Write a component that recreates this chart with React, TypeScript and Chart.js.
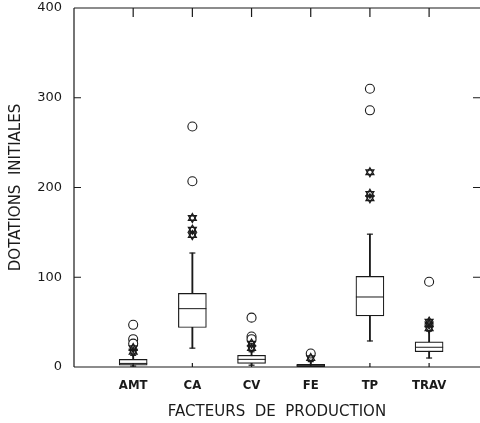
import React, { useEffect, useRef } from "react";
import { Chart, registerables } from "chart.js";

Chart.register(...registerables);

// ---- data ----
const categories = ["AMT", "CA", "CV", "FE", "TP", "TRAV"];
const q1 = [2, 44, 4, 0.5, 57, 17];
const medians = [4, 65, 8.5, 1.5, 78, 22];
const q3 = [8.5, 82, 13, 3, 101, 28];
const whiskerLow = [1, 21, 2, 0.3, 29, 10];
const whiskerHigh = [13, 127, 17, 6, 148, 40];
const farOutliers = [
  [47, 31, 26],
  [268, 207],
  [55, 34, 31],
  [15],
  [310, 286],
  [95],
];
const nearOutliers = [
  [21, 17],
  [166, 153, 147],
  [26, 21],
  [10],
  [217, 193, 188],
  [50.5, 47.5, 43],
];
const yTicks = [0, 100, 200, 300, 400];
const xTitle = "FACTEURS  DE  PRODUCTION";
const yTitle = "DOTATIONS  INITIALES";

const INK = "#1a1a1a";

const framePlugin = {
  id: "frame",
  afterDraw(chart: any) {
    const { ctx, chartArea } = chart;
    const xs = chart.scales.x;
    const ys = chart.scales.y;
    const { left, right, top, bottom } = chartArea;
    ctx.save();
    ctx.strokeStyle = INK;
    ctx.lineWidth = 1.2;
    ctx.beginPath();
    ctx.moveTo(left, top);
    ctx.lineTo(right, top);
    ctx.moveTo(left, top);
    ctx.lineTo(left, bottom);
    ctx.moveTo(left, bottom);
    ctx.lineTo(right, bottom);
    categories.forEach((_, i) => {
      const px = xs.getPixelForValue(i + 1);
      ctx.moveTo(px, top);
      ctx.lineTo(px, top + 9);
      ctx.moveTo(px, bottom);
      ctx.lineTo(px, bottom - 4);
    });
    yTicks.slice(1, -1).forEach((v) => {
      const py = ys.getPixelForValue(v);
      ctx.moveTo(left, py);
      ctx.lineTo(left + 7, py);
      ctx.moveTo(right, py);
      ctx.lineTo(right - 7, py);
    });
    ctx.stroke();
    ctx.restore();
  },
};

export default function App() {
  const ref = useRef<HTMLCanvasElement>(null);

  useEffect(() => {
    document.body.style.margin = "0";
    document.body.style.overflow = "hidden";
    const canvas = ref.current!;
    const pts = (vals: number[][]) =>
      vals.flatMap((arr, i) => arr.map((v) => ({ x: i + 1, y: v })));

    const chart = new Chart(canvas, {
      type: "bar",
      data: {
        datasets: [
          {
            type: "bar",
            data: categories.map((_, i) => ({ x: i + 1, y: [whiskerLow[i], whiskerHigh[i]] })) as any,
            backgroundColor: INK,
            borderWidth: 0,
            barThickness: 1.2,
            grouped: false,
            order: 6,
          } as any,
          {
            type: "bar",
            data: categories.map((_, i) => ({ x: i + 1, y: [q1[i], q3[i]] })) as any,
            backgroundColor: "#ffffff",
            borderColor: INK,
            borderWidth: 1.2,
            borderSkipped: false,
            barThickness: 28,
            grouped: false,
            order: 5,
          } as any,
          {
            type: "scatter",
            data: categories.map((_, i) => ({ x: i + 1, y: medians[i] })),
            pointStyle: "line",
            radius: 14,
            borderColor: INK,
            borderWidth: 1,
            order: 4,
          } as any,
          {
            type: "scatter",
            data: [
              ...categories.map((_, i) => ({ x: i + 1, y: whiskerHigh[i] })),
              ...categories.map((_, i) => ({ x: i + 1, y: whiskerLow[i] })),
            ],
            pointStyle: "line",
            radius: 3,
            borderColor: INK,
            borderWidth: 1.2,
            order: 4,
          } as any,
          {
            type: "scatter",
            data: pts(farOutliers),
            pointStyle: "circle",
            radius: 4.5,
            backgroundColor: "#ffffff",
            borderColor: INK,
            borderWidth: 1.1,
            order: 2,
          } as any,
          {
            type: "scatter",
            data: pts(nearOutliers),
            pointStyle: "triangle",
            radius: 4.5,
            rotation: 0,
            backgroundColor: "rgba(0,0,0,0)",
            borderColor: INK,
            borderWidth: 1.3,
            order: 1,
          } as any,
          {
            type: "scatter",
            data: pts(nearOutliers),
            pointStyle: "triangle",
            radius: 4.5,
            rotation: 180,
            backgroundColor: "rgba(0,0,0,0)",
            borderColor: INK,
            borderWidth: 1.3,
            order: 1,
          } as any,
        ],
      },
      options: {
        animation: false,
        responsive: false,
        maintainAspectRatio: false,
        layout: { autoPadding: false, padding: { top: 8, right: 0, left: 0, bottom: 0 } },
        plugins: {
          legend: { display: false },
          tooltip: { enabled: false },
        },
        scales: {
          x: {
            type: "linear",
            min: 0,
            max: 6.86,
            offset: false,
            grid: { display: false, drawTicks: false, offset: false },
            border: { display: false },
            afterBuildTicks: (s: any) => {
              s.ticks = categories.map((_, i) => ({ value: i + 1 }));
            },
            afterFit: (s: any) => {
              s.height = 56;
              s.paddingLeft = 0;
              s.paddingRight = 0;
            },
            ticks: {
              autoSkip: false,
              maxRotation: 0,
              padding: 11,
              color: INK,
              font: { family: "DejaVu Sans Condensed", size: 13, weight: "bold" },
              callback: (v: any) => categories[Number(v) - 1] ?? "",
            },
            title: {
              display: true,
              text: xTitle,
              color: INK,
              padding: { top: 0, bottom: 2 },
              font: { family: "DejaVu Sans", size: 15 },
            },
          },
          y: {
            type: "linear",
            min: 0,
            max: 400,
            grid: { display: false, drawTicks: false },
            border: { display: false },
            afterBuildTicks: (s: any) => {
              s.ticks = yTicks.map((v) => ({ value: v }));
            },
            afterFit: (s: any) => {
              s.width = 74;
              s.paddingTop = 0;
              s.paddingBottom = 0;
            },
            ticks: {
              padding: 12,
              color: INK,
              font: { family: "DejaVu Sans", size: 13 },
            },
            title: {
              display: true,
              text: yTitle,
              color: INK,
              padding: { top: 7, bottom: 0 },
              font: { family: "DejaVu Sans", size: 15 },
            },
          },
        },
      } as any,
      plugins: [framePlugin],
    });
    return () => chart.destroy();
  }, []);

  return (
    <div style={{ width: 480, height: 423 }}>
      <canvas ref={ref} width={480} height={423} style={{ width: 480, height: 423, display: "block" }} />
    </div>
  );
}
